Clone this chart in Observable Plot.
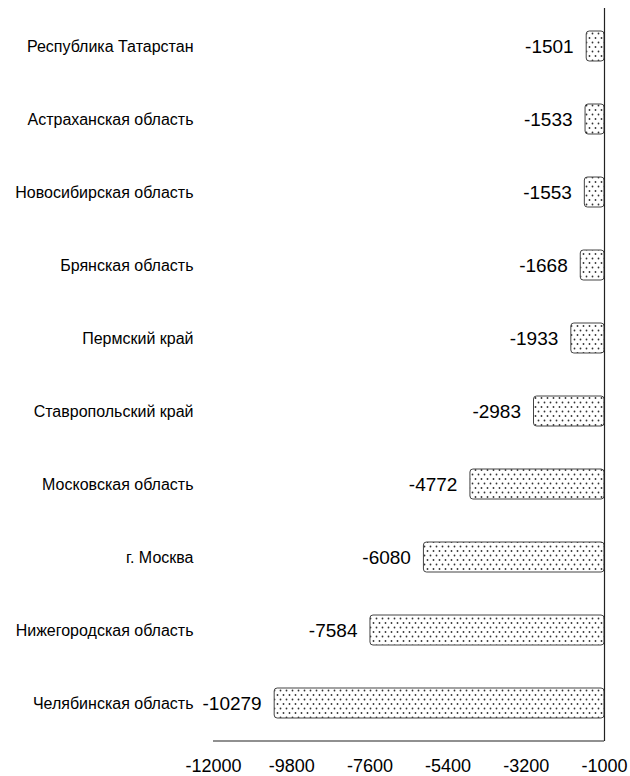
<!DOCTYPE html>
<html><head><meta charset="utf-8">
<script src="https://cdn.jsdelivr.net/npm/d3@7"></script>
<script src="https://cdn.jsdelivr.net/npm/@observablehq/plot@0.6"></script>
<style>body{margin:0;background:#fff;font-family:"Liberation Sans",Arial,sans-serif}</style>
</head><body><div id="chart"></div>
<script>
const regions = ["Республика Татарстан","Астраханская область","Новосибирская область","Брянская область","Пермский край","Ставропольский край","Московская область","г. Москва","Нижегородская область","Челябинская область"];
const values = [-1501,-1533,-1553,-1668,-1933,-2983,-4772,-6080,-7584,-10279];
const xTicks = [-12000,-9800,-7600,-5400,-3200,-1000];
const data = regions.map((r,i)=>({region:r, value:values[i]}));

const W = 630, H = 776, mL = 213, mR = 26, mT = 8, mB = 35;
const plot = Plot.plot({
  width: W, height: H,
  marginLeft: mL, marginRight: mR, marginTop: mT, marginBottom: mB,
  style: {fontFamily: '"Liberation Sans", Arial, sans-serif', color: "#000", background: "#fff"},
  x: {domain: [-12000, -1000], ticks: xTicks, tickFormat: d => String(d), label: null},
  y: {domain: regions, paddingInner: 0.59, paddingOuter: 0.295, label: null},
  marks: [
    Plot.barX(data, {y: "region", x1: "value", x2: -1000, fill: "url(#dots)", stroke: "#444", strokeWidth: 1, rx: 3}),
    Plot.text(data, {y: "region", x: "value", text: d => String(d.value), textAnchor: "end", dx: -13, fontSize: 19, fill: "#000"}),
    Plot.ruleX([-1000], {stroke: "#222", strokeWidth: 1.2}),
    Plot.axisX({ticks: xTicks, tickSize: 0, tickPadding: 18, fontSize: 18, tickFormat: d => String(d), label: null}),
    Plot.axisY({tickSize: 0, tickPadding: 20, fontSize: 16, label: null})
  ]
});
const svg = d3.select(plot);
const defs = svg.insert("defs", ":first-child");
const pat = defs.append("pattern").attr("id","dots").attr("patternUnits","userSpaceOnUse").attr("width",6).attr("height",9);
pat.append("rect").attr("width",6).attr("height",9).attr("fill","#fff");
pat.append("circle").attr("cx",1.5).attr("cy",2).attr("r",0.9).attr("fill","#333");
pat.append("circle").attr("cx",4.5).attr("cy",6.5).attr("r",0.9).attr("fill","#333");
// bottom axis line spanning the x domain
const xs = plot.scale("x");
svg.append("line")
  .attr("x1", xs.apply(xTicks[0])).attr("x2", xs.apply(xTicks[xTicks.length-1]))
  .attr("y1", H - mB).attr("y2", H - mB)
  .attr("stroke", "#222").attr("stroke-width", 1.2);
document.getElementById("chart").appendChild(plot);
</script></body></html>
